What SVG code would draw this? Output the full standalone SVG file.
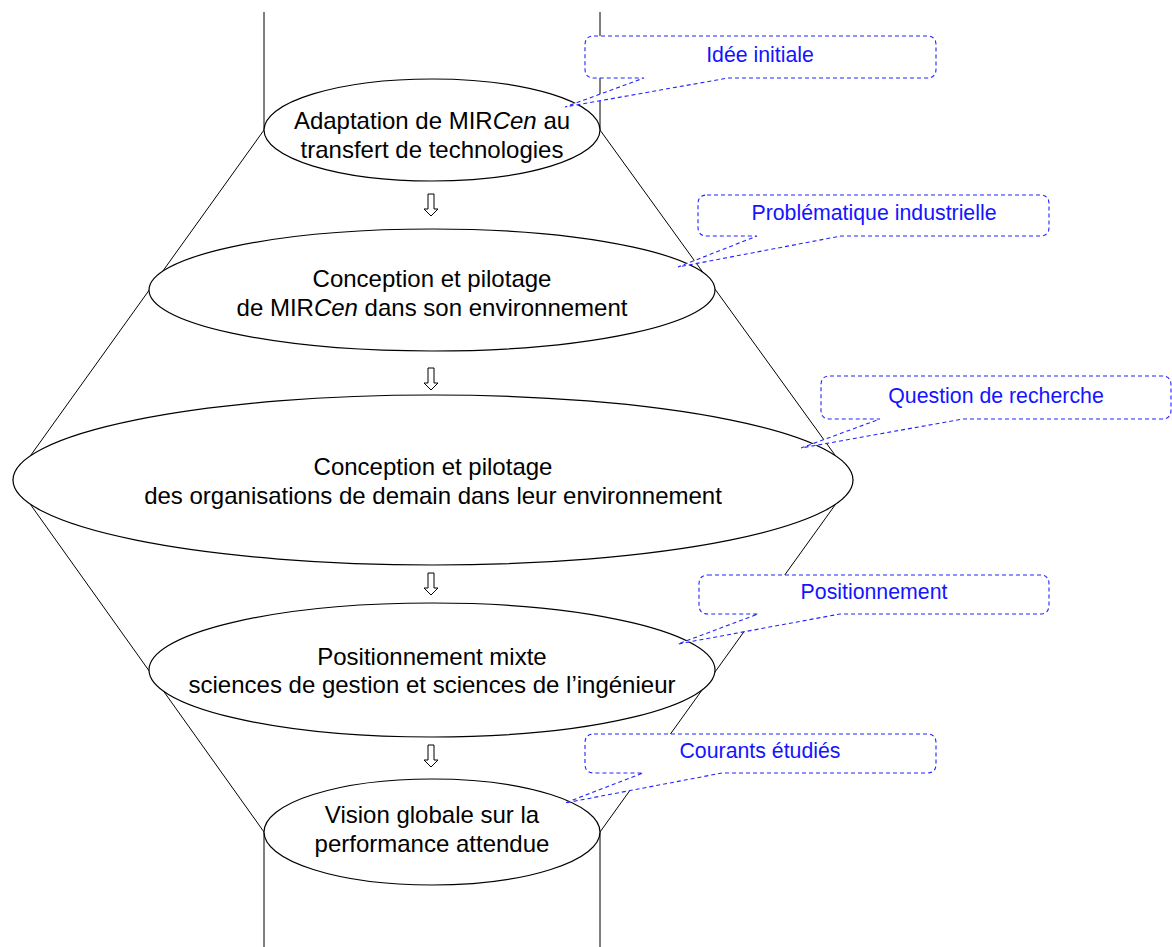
<svg xmlns="http://www.w3.org/2000/svg" width="1172" height="947" viewBox="0 0 1172 947">
<style>
.ln{stroke:#000;stroke-width:1;fill:none}
.el{stroke:#000;stroke-width:1.2;fill:#fff}
.tx{font-family:"Liberation Sans",Arial,sans-serif;font-size:24px;fill:#000;text-anchor:middle}
.co{stroke:#2323ff;stroke-width:1.1;stroke-dasharray:4 3;fill:#fff}
.ct{font-family:"Liberation Sans",Arial,sans-serif;font-size:21.3px;fill:#1414ff;text-anchor:middle}
.ar{stroke:#000;stroke-width:1;fill:#fff}
</style>
<defs>
<path id="arrow" d="M-3,0 H3 V15 H7 L0,22 L-7,15 H-3 Z"/>
</defs>
<rect width="1172" height="947" fill="#fff"/>
<g id="connectors">
<line class="ln" x1="264" y1="12" x2="264" y2="130"/>
<line class="ln" x1="600" y1="12" x2="600" y2="130"/>
<line class="ln" x1="264" y1="130" x2="13" y2="480"/>
<line class="ln" x1="600" y1="130" x2="853" y2="480"/>
<line class="ln" x1="13" y1="480" x2="264" y2="832"/>
<line class="ln" x1="853" y1="480" x2="600" y2="832"/>
<line class="ln" x1="264" y1="832" x2="264" y2="947"/>
<line class="ln" x1="600" y1="832" x2="600" y2="947"/>
<use href="#arrow" class="ar" x="431" y="194"/>
<use href="#arrow" class="ar" x="431" y="368"/>
<use href="#arrow" class="ar" x="431" y="573"/>
<use href="#arrow" class="ar" x="431" y="745"/>
</g>
<g id="n1">
<ellipse class="el" cx="432" cy="130" rx="168" ry="51"/>
<text class="tx" x="432" y="129">Adaptation de MIR<tspan font-style="italic">Cen</tspan> au</text>
<text class="tx" x="432" y="158">transfert de technologies</text>
</g>
<g id="n2">
<ellipse class="el" cx="432" cy="290" rx="283" ry="61"/>
<text class="tx" x="432" y="287">Conception et pilotage</text>
<text class="tx" x="432" y="316">de MIR<tspan font-style="italic">Cen</tspan> dans son environnement</text>
</g>
<g id="n3">
<ellipse class="el" cx="433" cy="480" rx="420" ry="85"/>
<text class="tx" x="433" y="475">Conception et pilotage</text>
<text class="tx" x="433" y="504">des organisations de demain dans leur environnement</text>
</g>
<g id="n4">
<ellipse class="el" cx="432" cy="670" rx="283" ry="67"/>
<text class="tx" x="432" y="665">Positionnement mixte</text>
<text class="tx" x="432" y="693">sciences de gestion et sciences de l’ingénieur</text>
</g>
<g id="n5">
<ellipse class="el" cx="432" cy="832" rx="168" ry="53"/>
<text class="tx" x="432" y="823">Vision globale sur la</text>
<text class="tx" x="432" y="852">performance attendue</text>
</g>
<g id="c1">
<path class="co" d="M594,36 H927 Q936,36 936,45 V69 Q936,78 927,78 H728 L565,107 L644,78 H594 Q585,78 585,69 V45 Q585,36 594,36 Z"/>
<text class="ct" x="760" y="62">Idée initiale</text>
</g>
<g id="c2">
<path class="co" d="M707,195 H1040 Q1049,195 1049,204 V227 Q1049,236 1040,236 H841 L678,267 L757,236 H707 Q698,236 698,227 V204 Q698,195 707,195 Z"/>
<text class="ct" x="874" y="220">Problématique industrielle</text>
</g>
<g id="c3">
<path class="co" d="M830,376 H1162 Q1171,376 1171,385 V410 Q1171,419 1162,419 H963 L801,448 L880,419 H830 Q821,419 821,410 V385 Q821,376 830,376 Z"/>
<text class="ct" x="996" y="403">Question de recherche</text>
</g>
<g id="c4">
<path class="co" d="M708,575 H1040 Q1049,575 1049,584 V605 Q1049,614 1040,614 H840 L678,644 L758,614 H708 Q699,614 699,605 V584 Q699,575 708,575 Z"/>
<text class="ct" x="874" y="599">Positionnement</text>
</g>
<g id="c5">
<path class="co" d="M594,734 H927 Q936,734 936,743 V764 Q936,773 927,773 H722 L565,803 L643,773 H594 Q585,773 585,764 V743 Q585,734 594,734 Z"/>
<text class="ct" x="760" y="758">Courants étudiés</text>
</g>
</svg>
